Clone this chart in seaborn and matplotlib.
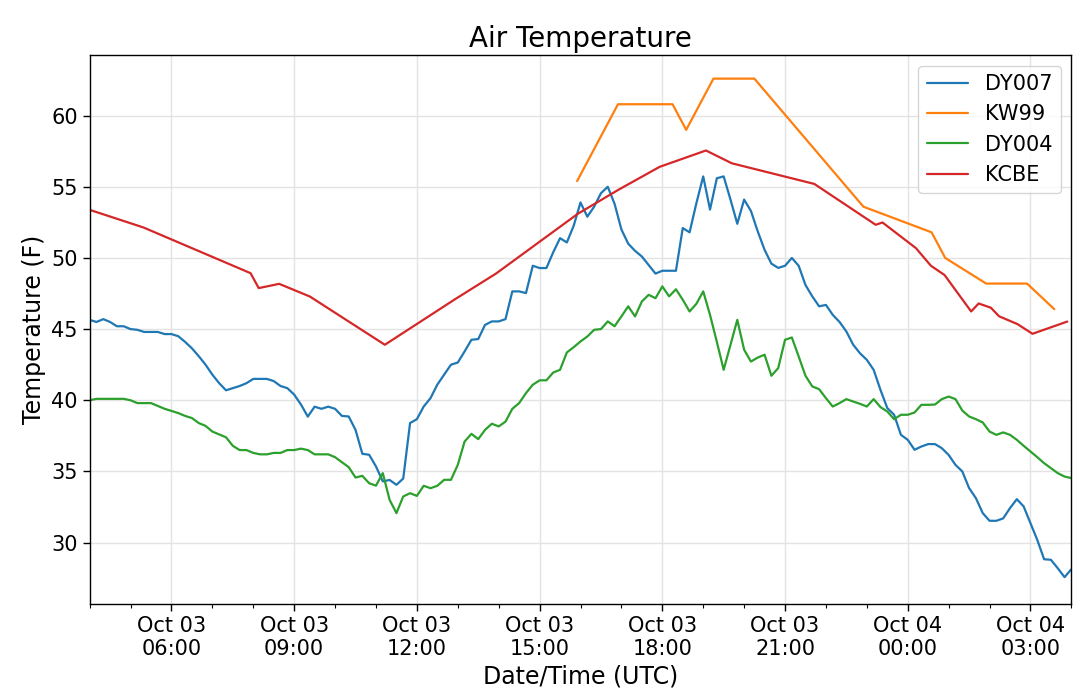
import numpy as np
import pandas as pd
import matplotlib
matplotlib.use("Agg")
import matplotlib.pyplot as plt
import matplotlib.dates as mdates
import seaborn as sns

# 10-minute station data, Oct 03 04:00 -> Oct 04 04:00 UTC
dy007 = [45.65, 45.5, 45.7, 45.5, 45.2, 45.2, 45.0, 44.95, 44.8, 44.8,
         44.8, 44.65, 44.65, 44.5, 44.1, 43.65, 43.1, 42.5, 41.8, 41.2,
         40.7, 40.85, 41.0, 41.2, 41.5, 41.5, 41.5, 41.35, 41.0, 40.85,
         40.4, 39.7, 38.85, 39.55, 39.4, 39.55, 39.4, 38.9, 38.86, 37.92,
         36.24, 36.17, 35.35, 34.3, 34.4, 34.06, 34.5, 38.4, 38.67, 39.56,
         40.15, 41.1, 41.8, 42.5, 42.65, 43.43, 44.25, 44.3, 45.3, 45.54,
         45.54, 45.7, 47.65, 47.65, 47.53, 49.45, 49.29, 49.29, 50.4, 51.39,
         51.09, 52.26, 53.9, 52.9, 53.6, 54.55, 55.0, 53.8, 52.0, 51.0,
         50.5, 50.1, 49.5, 48.9, 49.1, 49.1, 49.1, 52.1, 51.8, 53.85,
         55.73, 53.4, 55.6, 55.73, 54.1, 52.4, 54.1, 53.3, 51.86, 50.57,
         49.6, 49.3, 49.45, 50.0, 49.45, 48.1, 47.3, 46.6, 46.7, 46.0,
         45.5, 44.83, 43.9, 43.3, 42.84, 42.14, 40.73, 39.45, 38.98, 37.57,
         37.22, 36.52, 36.75, 36.92, 36.92, 36.63, 36.16, 35.46, 35.0, 33.83,
         33.12, 32.07, 31.53, 31.53, 31.7, 32.42, 33.05, 32.54, 31.36, 30.19,
         28.83, 28.79, 28.2, 27.57, 28.13]

dy004 = [40.0, 40.1, 40.1, 40.1, 40.1, 40.1, 40.0, 39.8, 39.8, 39.8,
         39.6, 39.4, 39.25, 39.1, 38.9, 38.75, 38.4, 38.2, 37.8, 37.6,
         37.4, 36.8, 36.5, 36.5, 36.3, 36.2, 36.2, 36.3, 36.3, 36.5,
         36.5, 36.6, 36.5, 36.2, 36.2, 36.2, 36.0, 35.65, 35.3, 34.57,
         34.69, 34.17, 34.0, 34.88, 33.0, 32.07, 33.24, 33.47, 33.28, 33.99,
         33.82, 33.99, 34.41, 34.41, 35.46, 37.1, 37.64, 37.27, 37.92, 38.35,
         38.16, 38.5, 39.4, 39.8, 40.5, 41.09, 41.4, 41.4, 41.95, 42.14,
         43.36, 43.73, 44.13, 44.48, 44.95, 45.0, 45.54, 45.2, 45.89, 46.6,
         45.89, 46.94, 47.41, 47.17, 48.0, 47.3, 47.8, 47.06, 46.24, 46.78,
         47.65, 46.0, 44.1, 42.14, 43.9, 45.65, 43.55, 42.72, 43.0, 43.2,
         41.72, 42.26, 44.25, 44.41, 43.08, 41.72, 40.97, 40.78, 40.15, 39.56,
         39.8, 40.08, 39.91, 39.75, 39.56, 40.08, 39.52, 39.21, 38.67, 38.98,
         38.98, 39.14, 39.68, 39.68, 39.7, 40.08, 40.26, 40.08, 39.28, 38.86,
         38.67, 38.44, 37.8, 37.57, 37.74, 37.57, 37.22, 36.8, 36.4, 36.0,
         35.58, 35.23, 34.88, 34.64, 34.53]

# airport reports, irregular times
kw99_times = ["2019-10-03 15:55", "2019-10-03 16:55", "2019-10-03 18:15",
              "2019-10-03 18:35", "2019-10-03 19:15", "2019-10-03 20:15",
              "2019-10-03 22:55", "2019-10-04 00:35", "2019-10-04 00:55",
              "2019-10-04 01:55", "2019-10-04 02:55", "2019-10-04 03:35"]
kw99 = [55.4, 60.8, 60.8, 59.0, 62.6, 62.6, 53.6, 51.8, 50.0, 48.2, 48.2, 46.4]

kcbe_times = ["2019-10-03 04:00", "2019-10-03 05:19", "2019-10-03 07:56",
              "2019-10-03 08:08", "2019-10-03 08:38", "2019-10-03 09:23",
              "2019-10-03 11:13", "2019-10-03 12:56", "2019-10-03 13:56",
              "2019-10-03 14:56", "2019-10-03 15:56", "2019-10-03 16:56",
              "2019-10-03 17:56", "2019-10-03 19:04", "2019-10-03 19:42",
              "2019-10-03 21:43", "2019-10-03 23:13", "2019-10-03 23:23",
              "2019-10-04 00:12", "2019-10-04 00:34", "2019-10-04 00:54",
              "2019-10-04 01:33", "2019-10-04 01:44", "2019-10-04 02:02",
              "2019-10-04 02:14", "2019-10-04 02:41", "2019-10-04 03:03",
              "2019-10-04 03:54"]
kcbe = [53.38, 52.14, 48.93, 47.88, 48.18, 47.29, 43.9, 47.1, 48.9, 51.0,
        53.1, 54.8, 56.4, 57.55, 56.65, 55.2, 52.33, 52.49, 50.69, 49.45,
        48.8, 46.24, 46.8, 46.5, 45.9, 45.35, 44.67, 45.53]

station_times = pd.date_range("2019-10-03 04:00", periods=len(dy007), freq="10min")

frames = [
    pd.DataFrame({"time": station_times, "temp": dy007, "site": "DY007"}),
    pd.DataFrame({"time": pd.to_datetime(kw99_times), "temp": kw99, "site": "KW99"}),
    pd.DataFrame({"time": station_times, "temp": dy004, "site": "DY004"}),
    pd.DataFrame({"time": pd.to_datetime(kcbe_times), "temp": kcbe, "site": "KCBE"}),
]
df = pd.concat(frames, ignore_index=True)

sns.set_theme(style="ticks", rc={"text.color": "black", "axes.labelcolor": "black",
                                 "xtick.color": "black", "ytick.color": "black",
                                 "axes.edgecolor": "black", "axes.linewidth": 1.0})
plt.rcParams["font.family"] = ["DejaVu Sans"]

fig = plt.figure(figsize=(10.8, 6.98), dpi=100)
ax = fig.add_axes([0.083, 0.135, 0.909, 0.786])

sns.lineplot(data=df, x="time", y="temp", hue="site", estimator=None,
             palette=["#1f77b4", "#ff7f0e", "#2ca02c", "#d62728"],
             linewidth=1.6, ax=ax)

ax.set_xlim(pd.Timestamp("2019-10-03 04:00"), pd.Timestamp("2019-10-04 04:00"))
ax.set_ylim(25.7, 64.25)
ax.xaxis.set_major_locator(mdates.HourLocator(byhour=range(0, 24, 3)))
ax.xaxis.set_minor_locator(mdates.HourLocator())
ax.xaxis.set_major_formatter(mdates.DateFormatter("%b %d\n%H:%M"))
ax.grid(True, which="major", color="#e3e3e3", linewidth=1)
ax.tick_params(axis="both", which="major", labelsize=15, length=5, width=1)
ax.tick_params(axis="x", which="minor", length=3, width=0.8)

ax.set_title("Air Temperature", fontsize=20)
ax.set_xlabel("Date/Time (UTC)", fontsize=17)
ax.set_ylabel("Temperature (F)", fontsize=17)
ax.legend(loc="upper right", fontsize=15, title=None)

fig.savefig("out.png", dpi=100)
